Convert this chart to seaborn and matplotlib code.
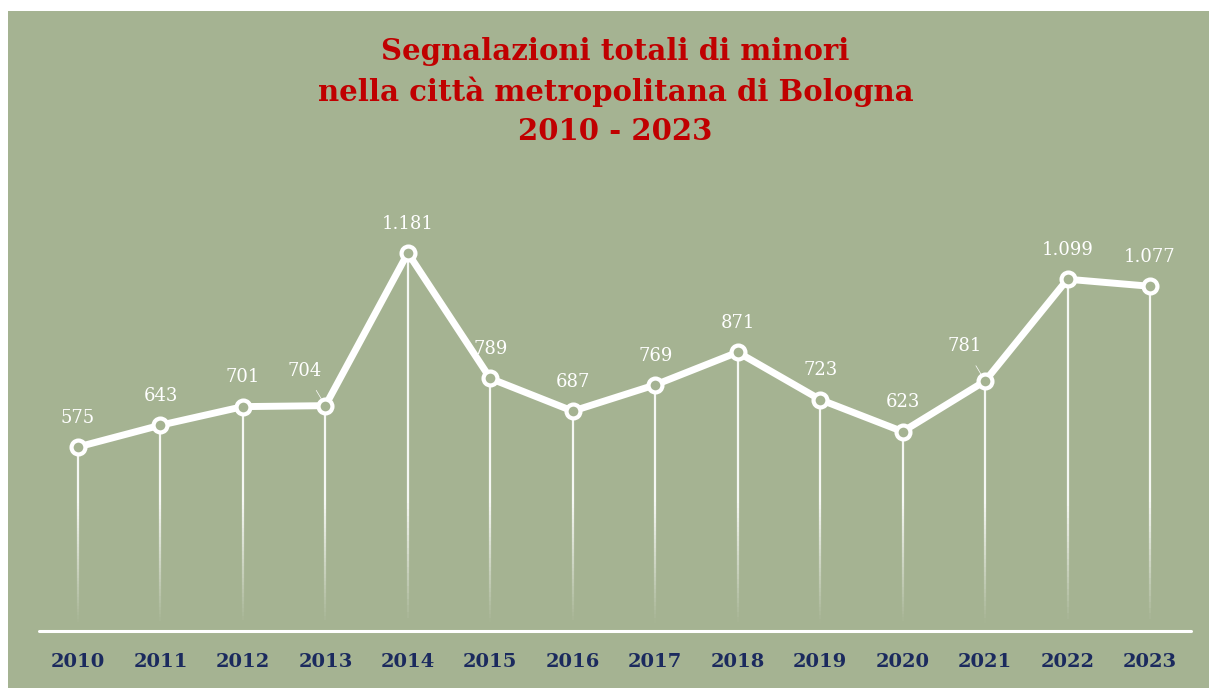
import numpy as np
import matplotlib
matplotlib.use("Agg")
import matplotlib.pyplot as plt
import seaborn as sns
import pandas as pd
from matplotlib.patches import Rectangle
from matplotlib.collections import LineCollection

# -----------------------------
# Data
# -----------------------------
years = [2010, 2011, 2012, 2013, 2014, 2015, 2016, 2017, 2018, 2019, 2020, 2021, 2022, 2023]
segnalazioni = [575, 643, 701, 704, 1181, 789, 687, 769, 871, 723, 623, 781, 1099, 1077]
title_lines = ["Segnalazioni totali di minori",
               "nella città metropolitana di Bologna",
               "2010 - 2023"]
# labels moved to the left with a small leader line
shifted_labels = [2013, 2021]

df = pd.DataFrame({"anno": years, "segnalazioni": segnalazioni})

BG = "#a5b392"
RED = "#c00000"
NAVY = "#1b2a5e"

sns.set_theme(style="white")
plt.rcParams["font.family"] = ["DejaVu Serif"]

fig = plt.figure(figsize=(12.09, 6.88), dpi=100, facecolor="white")
bg = Rectangle((8 / 1209, 0), 1 - 8 / 1209, 1 - 11 / 688,
               transform=fig.transFigure, facecolor=BG, edgecolor="none", zorder=-10)
fig.add_artist(bg)

ax = fig.add_axes([39 / 1209, 57 / 688, 1152 / 1209, 451 / 688])
ax.set_facecolor("none")
ax.set_xlim(2009.527, 2023.497)
ax.set_ylim(0, 1409)

# fading drop lines
for x, v in zip(years, segnalazioni):
    ys = np.linspace(0, v, 60)
    segs = [[(x, ys[i]), (x, ys[i + 1])] for i in range(len(ys) - 1)]
    alphas = np.clip((ys[:-1] - 20) / 380, 0, 1) * 0.9
    colors = [(1, 1, 1, a) for a in alphas]
    ax.add_collection(LineCollection(segs, colors=colors, linewidths=1.6, zorder=1))

# main line
sns.lineplot(data=df, x="anno", y="segnalazioni", ax=ax, color="white",
             linewidth=5, marker="o", markersize=10, markerfacecolor=BG,
             markeredgecolor="white", markeredgewidth=3, zorder=3)

# value labels
for x, v in zip(years, segnalazioni):
    txt = f"{v:,}".replace(",", ".")
    if x in shifted_labels:
        ax.annotate(txt, xy=(x, v), xytext=(-15, 25), textcoords="offset points",
                    ha="center", va="center", color="white", fontsize=13,
                    arrowprops=dict(arrowstyle="-", color="white", lw=0.5,
                                    shrinkA=6, shrinkB=4), zorder=4)
    else:
        ax.annotate(txt, xy=(x, v), xytext=(0, 21), textcoords="offset points",
                    ha="center", va="center", color="white", fontsize=13, zorder=4)

# baseline
ax.axhline(0, color="white", linewidth=2.2, zorder=2, clip_on=False)

ax.set_xticks(years)
ax.set_xticklabels([str(y) for y in years], color=NAVY, fontsize=14, fontweight="bold")
ax.tick_params(axis="x", length=0, pad=16)
ax.set_yticks([])
ax.set_xlabel("")
ax.set_ylabel("")
sns.despine(ax=ax, left=True, bottom=True)

# title
for i, line in enumerate(title_lines):
    fig.text(0.509, 1 - (52 + 40 * i) / 688, line, ha="center", va="center",
             color=RED, fontsize=21, fontweight="bold")

fig.savefig("out.png", dpi=100, facecolor="white")
